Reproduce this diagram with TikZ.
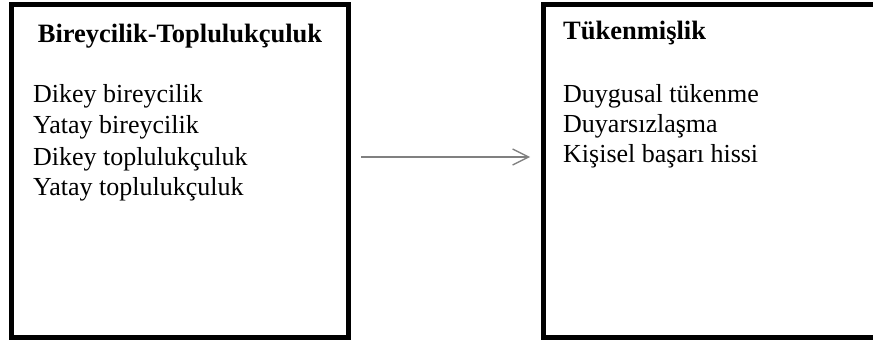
\documentclass[tikz,border=0pt]{standalone}
\usepackage{fontspec}
\setmainfont{Liberation Serif}
\usetikzlibrary{arrows.meta}
\begin{document}
\begin{tikzpicture}[x=1bp,y=1bp,
  frame/.style={draw=black, line width=5bp, inner sep=0pt, outer sep=0pt,
    minimum height=333bp},
  heading/.style={font=\fontsize{26.5bp}{30bp}\selectfont\bfseries, inner sep=0pt, anchor=base},
  entry/.style={font=\fontsize{26bp}{30bp}\selectfont, inner sep=0pt, anchor=base west},
  link/.style={draw=black!50, line width=1.3bp,
    -{Straight Barb[length=16bp,width=16bp]}}]
  \clip (0,0) rectangle (873,342);
  \fill[white] (0,0) rectangle (873,342);

  % the two boxes (the right one runs past the right edge)
  \node[frame, minimum width=336bp] (L) at (180,171) {};
  \node[frame, minimum width=340bp] (R) at (713,171) {};

  % left box: individualism--collectivism
  \node[heading] (Lt) at (180,300) {Bireycilik-Toplulukçuluk};
  \node[entry] (L1) at (33,240) {Dikey bireycilik};
  \node[entry] (L2) at (33,209) {Yatay bireycilik};
  \node[entry] (L3) at (33,177) {Dikey toplulukçuluk};
  \node[entry] (L4) at (33,147) {Yatay toplulukçuluk};

  % right box: burnout
  \node[heading, anchor=base west] (Rt) at (563,303) {Tükenmişlik};
  \node[entry] (R1) at (563,240) {Duygusal tükenme};
  \node[entry] (R2) at (563,210) {Duyarsızlaşma};
  \node[entry] (R3) at (563,180) {Kişisel başarı hissi};

  % connector
  \draw[link] ([shift={(13bp,14bp)}]L.east) -- ([shift={(-13bp,14bp)}]R.west);
\end{tikzpicture}
\end{document}
